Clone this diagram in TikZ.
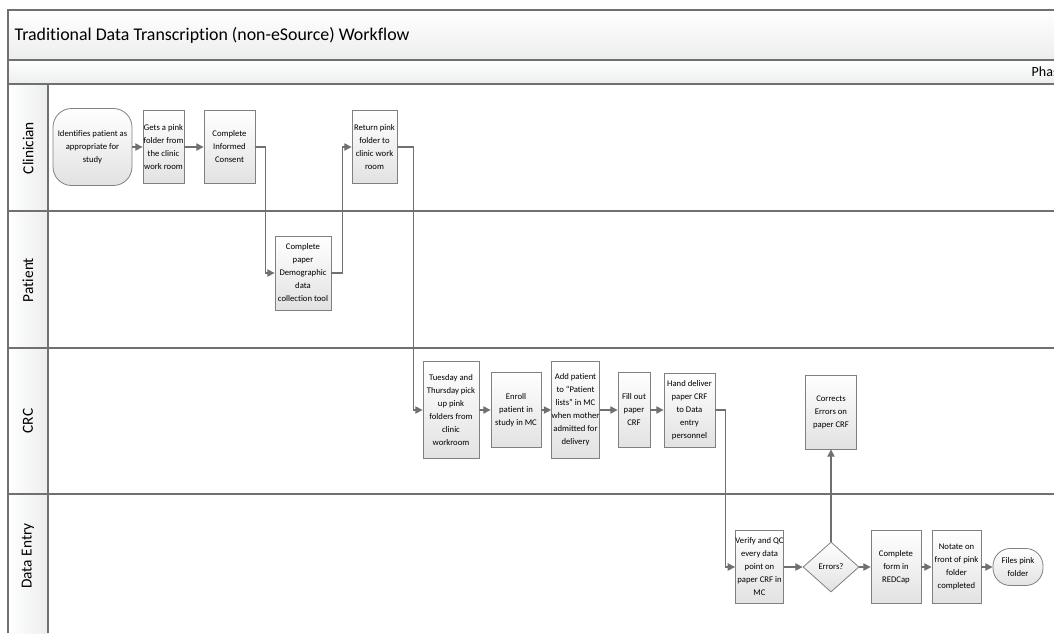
\documentclass[tikz,border=0pt]{standalone}
\usepackage{fontspec}
\setmainfont{Carlito}[Ligatures=CommonOff]
\usetikzlibrary{arrows.meta,shapes.geometric}
\definecolor{lanegray}{RGB}{112,112,112}
\definecolor{boxedge}{RGB}{128,128,128}
\definecolor{boxfoot}{RGB}{226,226,226}
\definecolor{bandfoot}{RGB}{236,237,238}

\begin{document}
\begin{tikzpicture}[x=0.75pt,y=-0.75pt,>={Triangle[length=5.5pt,width=5.5pt]},
    px/.style 2 args={minimum width=#1*0.75pt,minimum height=#2*0.75pt},
    task/.style={draw=boxedge,line width=0.6pt,top color=white,bottom color=boxfoot,inner sep=0pt,align=center,font=\fontsize{6.5}{9.75}\selectfont},
    term/.style={task,rounded corners=14pt},
    decide/.style={task,diamond},
    flow/.style={->,lanegray,line width=0.9pt},
    lane/.style={lanegray,line width=0.8pt},
    lanelabel/.style={rotate=90,font=\fontsize{11.5}{13}\selectfont}]
    \useasboundingbox (0,0) rectangle (1054,633);
    \clip (0,0) rectangle (1054,633);
    % pool frame
    \shade[top color=white,bottom color=bandfoot] (8,10) rectangle (1054,60);
    \shade[top color=white,bottom color=bandfoot] (8,60) rectangle (1054,84);
    \shade[left color=white,right color=bandfoot] (8,84) rectangle (48,633);
    \draw[lane] (8,633) -- (8,10) -- (1054,10);
    \draw[lane] (8,60) -- (1054,60);
    \draw[lane] (8,84) -- (1054,84);
    \draw[lane] (48,84) -- (48,633);
    \foreach \y in {211,348,494} \draw[lane] (8,\y) -- (1054,\y);
    \node[anchor=west,font=\fontsize{13.4}{15}\selectfont] (title) at (10,35) {Traditional Data Transcription (non-eSource) Workflow};
    \node[anchor=west,font=\fontsize{10.5}{12}\selectfont] (phase) at (1027,72) {Phase};
    \node[lanelabel] (clinlbl) at (28,148) {Clinician};
    \node[lanelabel] (patlbl) at (28,280) {Patient};
    \node[lanelabel] (crclbl) at (28,421) {CRC};
    \node[lanelabel] (entrylbl) at (28,556) {Data Entry};
    % Clinician
    \node[term,px={79}{77}] (start) at (92.5,147) {Identifies patient as\\appropriate for\\study};
    \node[task,px={41}{73}] (getfolder) at (163.5,147) {Gets a pink\\folder from\\the clinic\\work room};
    \node[task,px={51}{73}] (consent) at (229.5,147) {Complete\\Informed\\Consent};
    \node[task,px={45}{73}] (returnfolder) at (374.5,147) {Return pink\\folder to\\clinic work\\room};
    % Patient
    \node[task,px={56}{74}] (demog) at (303,273) {Complete\\paper\\Demographic\\data\\collection tool};
    % CRC
    \node[task,px={56}{97}] (pickup) at (451,410) {Tuesday and\\Thursday pick\\up pink\\folders from\\clinic\\workroom};
    \node[task,px={50}{75}] (enroll) at (516,410) {Enroll\\patient in\\study in MC};
    \node[task,px={47}{97}] (addlist) at (575.5,410) {Add patient\\to “Patient\\lists” in MC\\when mother\\admitted for\\delivery};
    \node[task,px={32}{75}] (fillcrf) at (634,410) {Fill out\\paper\\CRF};
    \node[task,px={51}{74}] (deliver) at (689.5,410) {Hand deliver\\paper CRF\\to Data\\entry\\personnel};
    \node[task,px={51}{74}] (corrects) at (831,412) {Corrects\\Errors on\\paper CRF};
    % Data Entry
    \node[task,px={47}{73}] (verify) at (759.5,567) {Verify and QC\\every data\\point on\\paper CRF in\\MC};
    \node[decide,px={56}{50}] (errors) at (831,567) {Errors?};
    \node[task,px={50}{73}] (redcap) at (896,567) {Complete\\form in\\REDCap};
    \node[task,px={49}{73}] (notate) at (956.5,567) {Notate on\\front of pink\\folder\\completed};
    \node[term,px={50}{37},rounded corners=13pt] (files) at (1018,567) {Files pink\\folder};
    % flows
    \draw[flow] (start) -- (getfolder);
    \draw[flow] (getfolder) -- (consent);
    \draw[flow] (consent.east) -- ++(10,0) |- (demog.west);
    \draw[flow] (demog.east) -- ++(11,0) |- (returnfolder.west);
    \draw[flow] (returnfolder.east) -- ++(16,0) |- (pickup.west);
    \draw[flow] (pickup) -- (enroll);
    \draw[flow] (enroll) -- (addlist);
    \draw[flow] (addlist) -- (fillcrf);
    \draw[flow] (fillcrf) -- (deliver);
    \draw[flow] (deliver.east) -- ++(10,0) |- (verify.west);
    \draw[flow] (verify) -- (errors);
    \draw[flow] (errors) -- (corrects);
    \draw[flow] (errors) -- (redcap);
    \draw[flow] (redcap) -- (notate);
    \draw[flow] (notate) -- (files);
\end{tikzpicture}
\end{document}
